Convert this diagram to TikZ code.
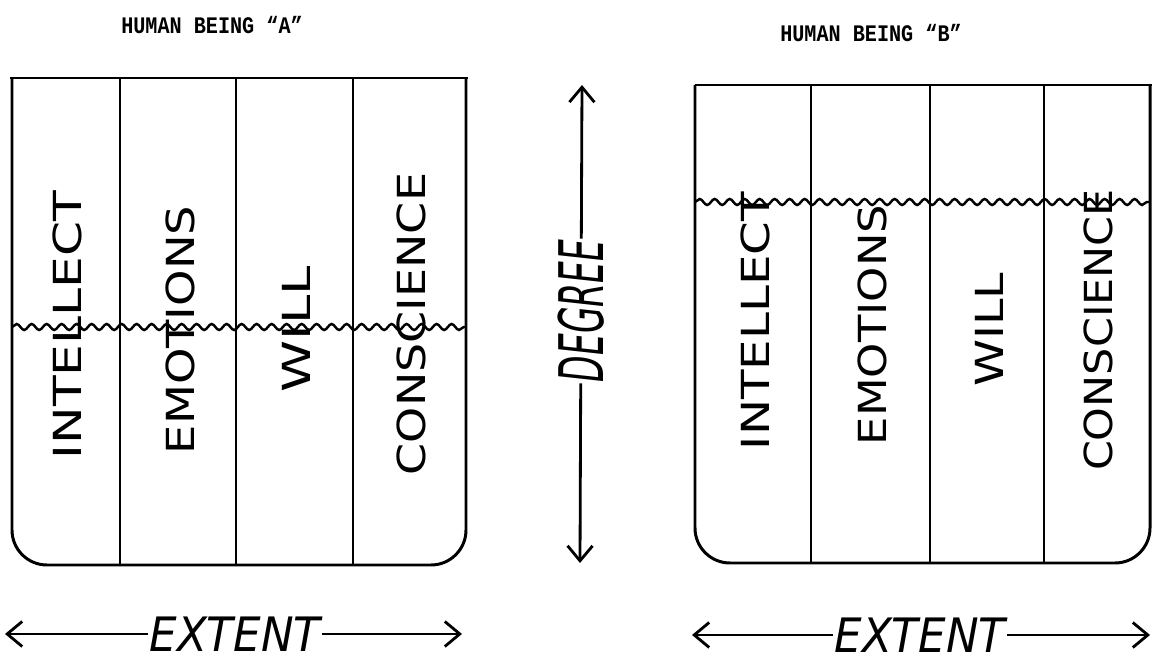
\documentclass[tikz,border=0pt]{standalone}
\usepackage{fontspec}
\setmainfont{DejaVu Sans}
\newfontfamily\titlefont{Liberation Mono}
\usetikzlibrary{arrows.meta,decorations.pathmorphing}

\begin{document}
\begin{tikzpicture}[x=0.02cm,y=-0.02cm]

	\tikzstyle box lines=[line width=1.7pt, rounded corners=0.7cm];
	\tikzstyle divider lines=[line width=1.4pt];
	\tikzstyle level lines=[line width=1.4pt, decorate, decoration={snake, segment length=0.3cm, amplitude=0.06cm}];
	\tikzstyle arrow lines=[line width=1.6pt, -{Straight Barb[length=0.3cm, width=0.5cm]}];
	\tikzstyle faculty labels=[rotate=90, font=\fontsize{22}{22}\selectfont, inner sep=0pt];
	\tikzstyle axis labels=[font=\fontsize{27}{27}\selectfont\itshape, inner sep=1pt];
	\tikzstyle title labels=[xscale=0.85, font=\titlefont\bfseries\fontsize{13.5}{14}\selectfont];

	\useasboundingbox (0,0) rectangle (1154,661);

	% human being A
	\node[title labels] (titleA) at (212,25) {HUMAN BEING “A”};
	\draw[box lines] (12,78) -- (12,565) -- (466,565) -- (466,78);
	\draw[divider lines] (10,78) -- (468,78);
		\foreach \x in {120,236,353}
			\draw[divider lines] (\x,78) -- (\x,565);
	\draw[level lines] (12,327) -- (466,327);
		\foreach \x/\y/\s/\label in {67/325/1.3/INTELLECT,180/330/1.2/EMOTIONS,296/329/1.36/WILL,411/324/1.19/CONSCIENCE}
			\node[faculty labels, xscale=\s] (A-\label) at (\x,\y) {\label};

	% human being B
	\node[title labels] (titleB) at (871,33) {HUMAN BEING “B”};
	\draw[box lines] (695,85) -- (695,563) -- (1150,563) -- (1150,85);
	\draw[divider lines] (695,85) -- (1152,85);
		\foreach \x in {811,930,1044}
			\draw[divider lines] (\x,85) -- (\x,563);
	\draw[level lines] (695,202) -- (1150,202);
		\foreach \x/\y/\s/\label in {755/321/1.25/INTELLECT,872/325/1.16/EMOTIONS,989/330/1.23/WILL,1098/330/1.11/CONSCIENCE}
			\node[faculty labels, xscale=\s] (B-\label) at (\x,\y) {\label};

	% degree
	\node[axis labels, font=\fontsize{35}{35}\selectfont\itshape, rotate=90, xscale=0.56] (degree) at (581,311) {DEGREE};
	\coordinate (degree top) at (582,85);
	\coordinate (degree bottom) at (580,563);
	\draw[arrow lines] (degree) -- (degree top);
	\draw[arrow lines] (degree) -- (degree bottom);

	% extent
	\node[axis labels, xscale=0.92] (extentA) at (235,634) {EXTENT};
	\coordinate (extentA left) at (5,634);
	\coordinate (extentA right) at (462,634);
	\draw[arrow lines] (extentA) -- (extentA left);
	\draw[arrow lines] (extentA) -- (extentA right);

	\node[axis labels, xscale=0.92] (extentB) at (920,635) {EXTENT};
	\coordinate (extentB left) at (692,635);
	\coordinate (extentB right) at (1150,635);
	\draw[arrow lines] (extentB) -- (extentB left);
	\draw[arrow lines] (extentB) -- (extentB right);

\end{tikzpicture}
\end{document}
